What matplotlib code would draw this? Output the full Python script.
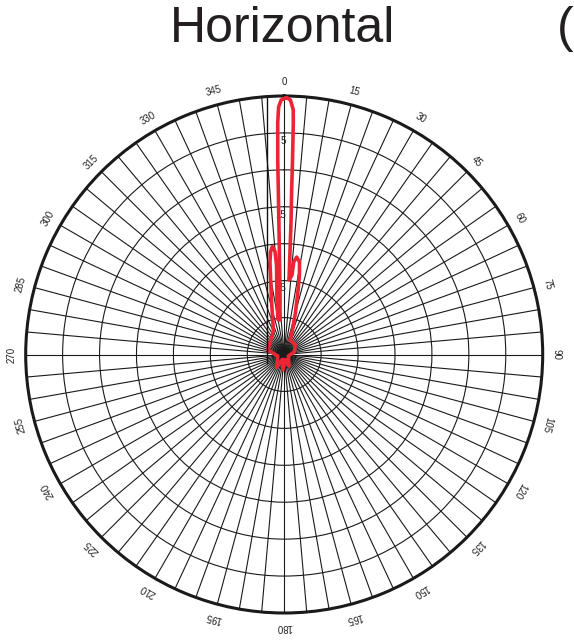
import numpy as np
import matplotlib
matplotlib.use("Agg")
import matplotlib.pyplot as plt
from matplotlib.lines import Line2D

plt.rcParams["font.family"] = ["Liberation Sans", "DejaVu Sans"]

# pattern trace: angle (deg, clockwise from 0) and level (dB)
trace_deg = [0.5, 1.4, 2.1, 2.25, 2.45, 2.6, 2.95, 3.2, 3.7, 5.6, 5.9, 7.3, 9.4,
             10.8, 12.1, 15.2, 18.7, 22.3, 48.7, 75.5, 110.5, 157.5, 168.5,
             184.5, 200.5, 210.5, 255.5, 285.5, 309.5, 326.5, 336.0, 346.9,
             351.2, 352.4, 353.7, 354.9, 355.1, 352.5, 349.8, 353.1, 356.3,
             357.2, 357.7, 357.95, 358.1, 358.4, 358.7, 359.3, 360.5]
trace_db = [-0.2, -0.53, -1.8, -3.6, -8.6, -12.7, -17.1, -20.8, -24.9, -24.2,
            -22.4, -21.7, -22.3, -24.0, -26.0, -29.2, -31.5, -32.9, -33.0,
            -33.6, -34.4, -33.3, -34.3, -32.9, -34.3, -33.0, -34.1, -32.7,
            -32.5, -32.0, -31.4, -27.4, -22.4, -21.0, -20.3, -21.0, -22.8,
            -27.5, -30.2, -30.3, -26.2, -21.8, -17.1, -12.7, -8.6, -3.6, -1.5,
            -0.55, -0.2]

ring_db = [-35, -30, -25, -20, -15, -10, -5, 0]
ring_labels = {-5: "5", -15: "15", -25: "25"}
angle_labels = list(range(0, 360, 15))
spoke_step = 5

W, H = 574, 643
fig = plt.figure(figsize=(W / 100, H / 100), dpi=100)

cx, cy, R = 284.2, 354.5, 258.5
ax = fig.add_axes([(cx - R) / W, (H - cy - R) / H, 2 * R / W, 2 * R / H],
                  projection="polar")
ax.set_theta_zero_location("N")
ax.set_theta_direction(-1)
ax.set_ylim(ring_db[0], ring_db[-1])

ax.set_xticks(np.deg2rad(np.arange(0, 360, spoke_step)))
ax.set_xticklabels([])
ax.set_yticks(ring_db)
ax.set_yticklabels([])
ax.grid(True, color="#1a1a1a", linewidth=0.8, linestyle="-")
ax.spines["polar"].set_linewidth(2.2)
ax.spines["polar"].set_color("#1a1a1a")

# angle labels, rotated along the rim
for a in angle_labels:
    ax.text(np.deg2rad(a), 1.9, str(a), fontsize=7, rotation=-a,
            rotation_mode="anchor", ha="center", va="center", color="#222222",
            clip_on=False)

# ring labels near 0 deg
for val, txt in ring_labels.items():
    ax.annotate(txt, xy=(0, val), xytext=(1.5, -2), textcoords="offset points",
                ha="right", va="top", fontsize=7, color="#222222")

ax.plot(np.deg2rad(trace_deg), trace_db, color="#EC2434", linewidth=2.6,
        solid_joinstyle="round", solid_capstyle="round", zorder=5)

# stray vertical line seen in the source image
fig.add_artist(Line2D([267 / W, 267 / W], [1 - 96 / H, 1 - 363 / H],
                      transform=fig.transFigure, color="#111111", linewidth=1.0))

fig.text(282.5 / W, 1 - 42 / H, "Horizontal", fontsize=36, ha="center",
         va="baseline", color="#231f20")
fig.text(573 / W, 1 - 42 / H, "(", fontsize=36, ha="right", va="baseline",
         color="#231f20")

fig.savefig("out.png", dpi=100)
